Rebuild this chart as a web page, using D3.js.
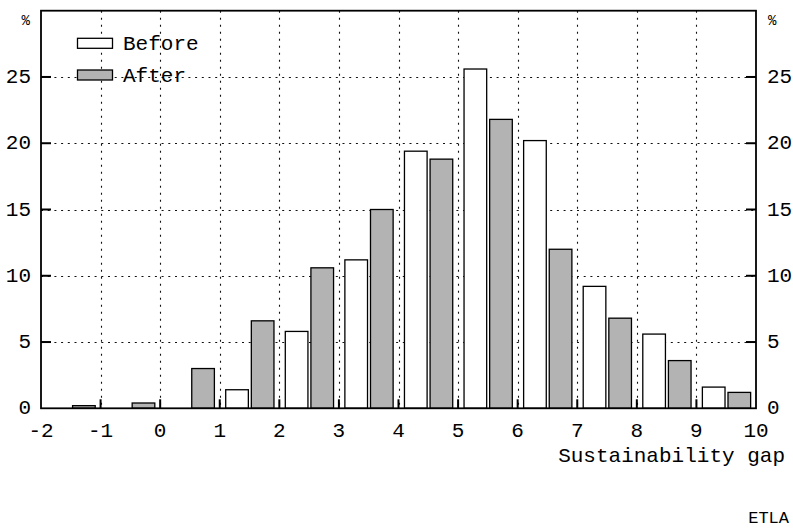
<!DOCTYPE html>
<html>
<head>
<meta charset="utf-8">
<script src="https://cdn.jsdelivr.net/npm/d3@7/dist/d3.min.js"></script>
<style>
  html, body { margin: 0; padding: 0; background: #fff; }
  svg { display: block; }
  text { font-family: "Liberation Mono", "Courier New", monospace; fill: #000; }
</style>
</head>
<body>
<svg id="chart" width="793" height="529"></svg>
<script>
// Distribution of the sustainability gap, before and after
const categories = [-2, -1, 0, 1, 2, 3, 4, 5, 6, 7, 8, 9];
const before = [0, 0, 0, 1.4, 5.8, 11.2, 19.4, 25.6, 20.2, 9.2, 5.6, 1.6];
const after  = [0.2, 0.4, 3.0, 6.6, 10.6, 15.0, 18.8, 21.8, 12.0, 6.8, 3.6, 1.2];
const xTickValues = [-2, -1, 0, 1, 2, 3, 4, 5, 6, 7, 8, 9, 10];
const yTickValues = [0, 5, 10, 15, 20, 25];
const seriesNames = ["Before", "After"];
const xTitle = "Sustainability gap";
const unitLabel = "%";
const sourceLabel = "ETLA";

const svg = d3.select("#chart");
const plotLeft = 41, plotRight = 756, plotTop = 10.7, plotBottom = 408.3;

const x = d3.scaleLinear().domain([-2, 10]).range([plotLeft, plotRight]);
const y = d3.scaleLinear().domain([0, 30]).range([plotBottom, plotTop]);

const fillBefore = "#ffffff";
const fillAfter = "#b3b3b3";

// dotted grid
const gridV = xTickValues.filter(v => v > -2 && v < 10);
const gridH = yTickValues.filter(v => v > 0);
const grid = svg.append("g").attr("class", "grid");
grid.selectAll("line.v").data(gridV).join("line")
  .attr("x1", d => Math.round(x(d)) + 0.5).attr("x2", d => Math.round(x(d)) + 0.5)
  .attr("y1", plotTop).attr("y2", plotBottom)
  .attr("stroke", "#111").attr("stroke-width", 1.1).attr("stroke-dasharray", "2,5");
grid.selectAll("line.h").data(gridH).join("line")
  .attr("x1", plotLeft).attr("x2", plotRight)
  .attr("y1", d => Math.round(y(d)) + 0.5).attr("y2", d => Math.round(y(d)) + 0.5)
  .attr("stroke", "#111").attr("stroke-width", 1.1).attr("stroke-dasharray", "2,4.7");

// bars: each interval [c, c+1] holds a Before and an After bar
const barW = 0.38;
const offBefore = 0.10, offAfter = 0.53;
const bars = svg.append("g").attr("class", "bars");
bars.selectAll("rect.before").data(categories.map((c, i) => ({ c, v: before[i] }))).join("rect")
  .attr("x", d => x(d.c + offBefore)).attr("width", d => x(d.c + offBefore + barW) - x(d.c + offBefore))
  .attr("y", d => y(d.v)).attr("height", d => y(0) - y(d.v))
  .attr("fill", fillBefore).attr("stroke", "#000").attr("stroke-width", 1.3);
bars.selectAll("rect.after").data(categories.map((c, i) => ({ c, v: after[i] }))).join("rect")
  .attr("x", d => x(d.c + offAfter)).attr("width", d => x(d.c + offAfter + barW) - x(d.c + offAfter))
  .attr("y", d => y(d.v)).attr("height", d => y(0) - y(d.v))
  .attr("fill", fillAfter).attr("stroke", "#000").attr("stroke-width", 1.3);

// frame
svg.append("rect").attr("x", plotLeft).attr("y", plotTop)
  .attr("width", plotRight - plotLeft).attr("height", plotBottom - plotTop)
  .attr("fill", "none").attr("stroke", "#000").attr("stroke-width", 1.8);

// inward ticks
const ticks = svg.append("g").attr("stroke", "#000").attr("stroke-width", 2);
ticks.selectAll("line.b").data(gridV).join("line")
  .attr("x1", d => x(d)).attr("x2", d => x(d)).attr("y1", plotBottom).attr("y2", plotBottom - 9);
ticks.selectAll("line.l").data(gridH).join("line")
  .attr("x1", plotLeft).attr("x2", plotLeft + 10).attr("y1", d => y(d)).attr("y2", d => y(d));
ticks.selectAll("line.r").data(gridH).join("line")
  .attr("x1", plotRight - 10).attr("x2", plotRight).attr("y1", d => y(d)).attr("y2", d => y(d));

// tick labels
const fs = 21;
svg.append("g").selectAll("text").data(xTickValues).join("text")
  .attr("x", d => x(d)).attr("y", 437).attr("text-anchor", "middle")
  .attr("font-size", fs).text(d => d);
svg.append("g").selectAll("text").data(yTickValues).join("text")
  .attr("x", 31).attr("y", d => y(d) + 6).attr("text-anchor", "end")
  .attr("font-size", fs).text(d => d);
svg.append("g").selectAll("text").data(yTickValues).join("text")
  .attr("x", 767).attr("y", d => y(d) + 6).attr("text-anchor", "start")
  .attr("font-size", fs).text(d => d);

// unit labels
svg.append("text").attr("x", 30).attr("y", 25).attr("text-anchor", "end")
  .attr("font-size", 14).text(unitLabel);
svg.append("text").attr("x", 768).attr("y", 25).attr("text-anchor", "start")
  .attr("font-size", 14).text(unitLabel);

// axis title and source
svg.append("text").attr("x", 785).attr("y", 462).attr("text-anchor", "end")
  .attr("font-size", fs).text(xTitle);
svg.append("text").attr("x", 789).attr("y", 523).attr("text-anchor", "end")
  .attr("font-size", 17).text(sourceLabel);

// legend
const legend = svg.append("g");
const legY = [43.3, 75];
const legFill = [fillBefore, fillAfter];
seriesNames.forEach((name, i) => {
  legend.append("rect").attr("x", 77.5).attr("y", legY[i] - 5)
    .attr("width", 35).attr("height", 10)
    .attr("fill", legFill[i]).attr("stroke", "#000").attr("stroke-width", 1.3);
  legend.append("text").attr("x", 123).attr("y", legY[i] + 7)
    .attr("font-size", fs).text(name);
});
</script>
</body>
</html>
